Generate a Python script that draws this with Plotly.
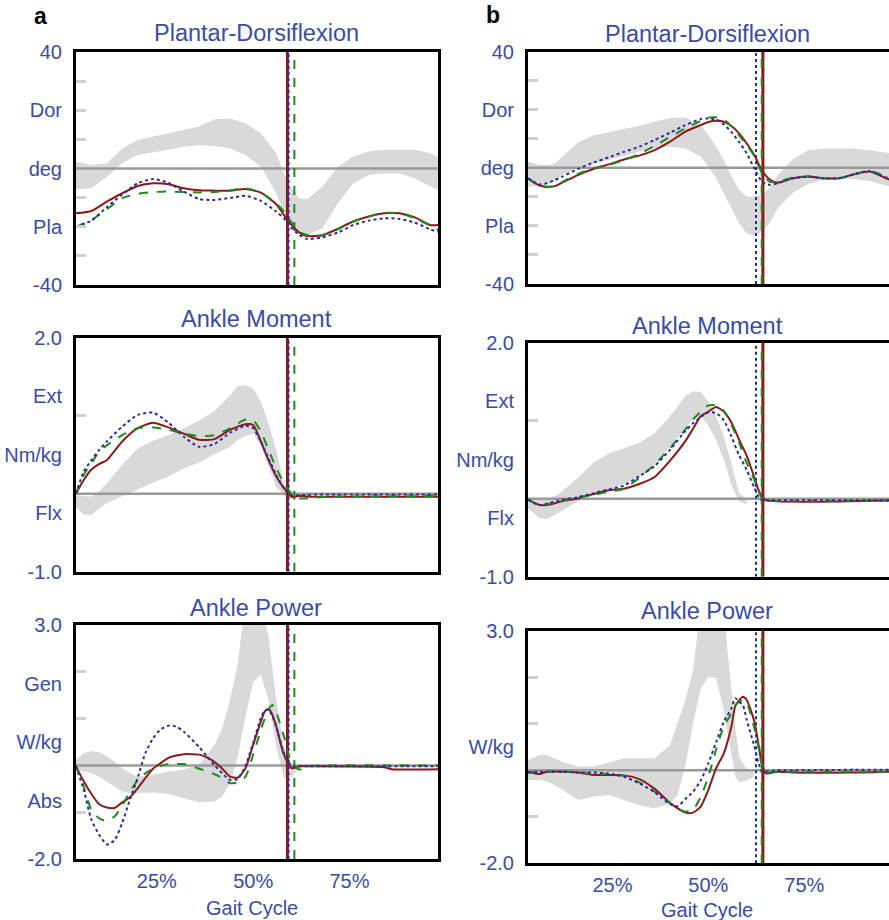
import plotly.graph_objects as go

# ---------------- data ----------------
# Panel a, Plantar-Dorsiflexion (deg)
a1_x = [4, 8, 12, 16, 20, 24, 28, 32, 36, 40, 44, 48, 52, 56, 58, 60, 62, 64, 68, 72, 76, 80, 84, 88, 92, 96, 98]
a1_red = [-15.4, -14.6, -11.4, -8.5, -6.0, -5.1, -5.4, -6.8, -7.5, -7.6, -7.6, -7.0, -8.3, -12.3, -16.0, -19.4, -22.0, -23.2, -22.9, -20.7, -18.2, -16.5, -15.4, -15.4, -16.8, -19.4, -19.4]
a1_green = [-20.0, -17.7, -14.0, -10.2, -8.7, -8.1, -7.9, -8.1, -8.2, -8.1, -7.5, -6.8, -8.3, -12.0, -14.8, -18.6, -21.7, -22.8, -22.9, -20.9, -18.2, -16.5, -15.2, -15.4, -17.1, -19.7, -21.1]
a1_blue = [-20.0, -17.9, -13.3, -8.9, -5.1, -3.6, -4.9, -7.9, -10.5, -10.8, -10.1, -9.4, -11.1, -14.8, -17.1, -20.5, -22.8, -24.2, -23.6, -22.0, -19.4, -17.9, -17.1, -17.3, -18.6, -20.9, -21.7]
a1_band_hi = [2.3, 1.2, 1.8, 6.9, 9.8, 11.0, 12.1, 13.2, 14.4, 16.9, 17.2, 15.5, 12.1, 5.2, -1.7, -6.8, -10.2, -10.6, -6.2, 0.6, 4.1, 5.8, 6.4, 6.4, 6.4, 5.2, 4.1]
a1_band_lo = [-7.1, -6.8, -2.8, 1.8, 4.6, 5.4, 6.4, 7.5, 8.0, 7.7, 6.9, 4.6, 0.6, -8.5, -15.4, -20.0, -22.3, -22.8, -20.5, -11.9, -5.1, -2.2, -1.6, -1.6, -3.4, -6.2, -7.4]

# Panel a, Ankle Moment (Nm/kg)
a2_x = [4, 6, 8, 10, 12, 16, 20, 24, 28, 32, 36, 40, 44, 48, 50, 52, 54, 56, 58, 60, 62, 66, 70, 98]
a2_red = [0.0, 0.175, 0.31, 0.38, 0.43, 0.67, 0.84, 0.91, 0.85, 0.77, 0.69, 0.70, 0.82, 0.89, 0.88, 0.67, 0.43, 0.22, 0.07, -0.04, -0.03, -0.04, -0.04, -0.04]
a2_green = [0.0, 0.24, 0.39, 0.54, 0.62, 0.75, 0.84, 0.85, 0.82, 0.77, 0.74, 0.75, 0.84, 0.95, 0.94, 0.80, 0.56, 0.33, 0.13, 0.0, -0.06, -0.05, -0.04, -0.03]
a2_blue = [0.0, 0.28, 0.43, 0.56, 0.67, 0.86, 1.01, 1.04, 0.91, 0.73, 0.60, 0.64, 0.78, 0.87, 0.84, 0.67, 0.45, 0.24, 0.07, -0.02, -0.02, -0.01, -0.01, -0.01]
a2_band_x = [4, 6, 8, 10, 12, 16, 20, 24, 28, 32, 36, 40, 44, 46, 48, 50, 52, 54, 56, 58, 60]
a2_band_hi = [-0.02, -0.03, -0.04, 0.03, 0.13, 0.37, 0.58, 0.68, 0.75, 0.84, 0.94, 1.06, 1.26, 1.38, 1.39, 1.35, 1.18, 0.90, 0.56, 0.13, -0.04]
a2_band_lo = [-0.17, -0.27, -0.27, -0.19, -0.12, -0.04, 0.05, 0.14, 0.22, 0.325, 0.40, 0.51, 0.60, 0.69, 0.74, 0.77, 0.62, 0.35, 0.09, -0.02, -0.05]

# Panel a, Ankle Power (W/kg)
a3_x = [4, 6, 8, 10, 12, 14, 16, 18, 20, 22, 24, 26, 28, 30, 32, 36, 38, 40, 42, 44, 46, 48, 50, 52, 53, 54, 55, 56, 58, 60, 62, 64, 84, 86, 98]
a3_red = [-0.02, -0.34, -0.61, -0.83, -0.90, -0.91, -0.79, -0.68, -0.49, -0.27, -0.07, 0.05, 0.16, 0.21, 0.24, 0.23, 0.17, 0.07, -0.07, -0.24, -0.26, -0.06, 0.44, 0.94, 1.15, 1.21, 1.08, 0.83, 0.23, -0.06, -0.02, -0.02, -0.04, -0.08, -0.08]
a3_green = [-0.02, -0.45, -0.95, -1.13, -1.18, -1.09, -0.86, -0.56, -0.32, -0.17, -0.07, -0.01, 0.03, 0.03, 0.03, -0.07, -0.13, -0.19, -0.27, -0.38, -0.36, -0.24, 0.23, 0.76, 1.00, 1.20, 1.29, 1.14, 0.62, 0.05, -0.09, -0.02, 0.0, 0.0, 0.0]
a3_blue = [-0.02, -0.52, -1.16, -1.48, -1.69, -1.60, -1.23, -0.73, -0.27, 0.26, 0.58, 0.77, 0.85, 0.83, 0.72, 0.39, 0.19, 0.0, -0.17, -0.31, -0.29, -0.01, 0.48, 1.01, 1.17, 1.19, 1.05, 0.83, 0.26, -0.02, -0.02, -0.02, -0.02, -0.02, -0.02]
a3_band_x = [4, 6, 8, 10, 12, 14, 16, 18, 20, 24, 28, 32, 36, 40, 42, 44, 46, 48, 50, 52, 54, 56, 58, 60, 62]
a3_band_hi = [0.12, 0.26, 0.30, 0.28, 0.19, 0.08, -0.06, -0.16, -0.24, -0.20, -0.13, -0.09, 0.01, 0.44, 0.80, 1.40, 2.18, 3.5, 3.5, 3.5, 2.75, 1.40, 0.40, 0.05, 0.0]
a3_band_lo = [-0.13, -0.13, -0.17, -0.24, -0.34, -0.45, -0.56, -0.59, -0.59, -0.58, -0.61, -0.70, -0.79, -0.77, -0.66, -0.38, 0.19, 1.04, 1.79, 1.93, 1.40, 0.40, -0.27, -0.24, -0.05]

# Panel b, Plantar-Dorsiflexion (deg)
b1_x = [3, 6, 8, 10, 12, 16, 20, 24, 28, 32, 36, 40, 44, 48, 50, 52, 54, 56, 58, 60, 62, 64, 66, 68, 72, 76, 80, 84, 88, 92, 96, 97.5]
b1_red = [-3.6, -6.1, -6.5, -6.3, -5.0, -2.5, -0.4, 1.2, 2.9, 4.2, 6.1, 9.0, 12.5, 14.7, 15.8, 16.2, 15.9, 14.4, 11.9, 8.4, 4.3, -1.0, -4.0, -5.1, -3.6, -3.0, -3.6, -3.6, -2.2, -1.3, -3.4, -4.2]
b1_green = [-3.6, -6.3, -6.7, -6.1, -4.8, -2.1, -0.2, 1.0, 2.7, 4.8, 7.6, 10.7, 13.6, 16.2, 17.3, 17.4, 16.7, 14.3, 11.2, 7.8, 4.0, -1.9, -4.8, -4.8, -3.4, -3.0, -3.6, -3.6, -2.2, -1.1, -2.6, -3.0]
b1_blue = [-3.6, -5.7, -5.2, -4.2, -3.0, -0.4, 1.8, 3.6, 5.5, 7.3, 9.6, 12.1, 14.7, 16.8, 17.0, 16.7, 15.0, 12.3, 8.9, 5.0, -0.3, -4.8, -5.9, -5.3, -3.6, -3.0, -3.6, -3.6, -2.2, -1.1, -3.2, -3.6]
b1_band_hi = [2.1, 1.0, 1.0, 1.5, 3.9, 8.7, 11.1, 12.2, 13.3, 14.5, 15.9, 17.2, 17.3, 14.7, 11.3, 7.3, 2.7, -2.8, -7.6, -9.9, -9.9, -9.0, -7.1, -2.6, 3.0, 6.1, 6.7, 6.7, 6.7, 6.1, 5.2, 5.0]
b1_band_lo = [-6.5, -6.0, -5.7, -4.4, -2.5, -0.2, 1.2, 2.7, 4.2, 5.6, 6.7, 7.3, 6.7, 3.9, 0.4, -3.6, -8.8, -14.0, -19.1, -22.6, -23.5, -22.0, -19.1, -14.0, -8.6, -5.6, -4.2, -3.8, -3.8, -4.5, -5.9, -6.5]

# Panel b, Ankle Moment (Nm/kg)
b2_x = [3, 6, 8, 12, 16, 20, 24, 28, 32, 36, 40, 44, 46, 48, 50, 52, 54, 56, 58, 60, 62, 63, 64, 65, 97.5]
b2_red = [-0.01, -0.08, -0.08, -0.03, 0.005, 0.06, 0.11, 0.13, 0.19, 0.28, 0.49, 0.74, 0.90, 1.06, 1.12, 1.18, 1.12, 0.98, 0.76, 0.55, 0.27, 0.12, 0.02, -0.02, -0.02]
b2_green = [-0.01, -0.09, -0.07, -0.02, 0.02, 0.05, 0.09, 0.13, 0.27, 0.44, 0.65, 0.89, 1.02, 1.12, 1.20, 1.20, 1.13, 0.95, 0.72, 0.46, 0.24, 0.11, 0.0, -0.02, -0.02]
b2_blue = [-0.01, -0.08, -0.06, -0.01, 0.02, 0.07, 0.12, 0.17, 0.29, 0.42, 0.63, 0.87, 0.97, 1.05, 1.11, 1.10, 1.01, 0.80, 0.56, 0.37, 0.14, 0.03, -0.02, -0.02, -0.02]
b2_band_x = [3, 6, 8, 10, 12, 16, 20, 24, 28, 32, 36, 40, 44, 46, 48, 50, 52, 54, 56, 58, 60]
b2_band_hi = [-0.01, -0.02, -0.01, 0.03, 0.10, 0.27, 0.46, 0.58, 0.65, 0.72, 0.84, 1.06, 1.32, 1.38, 1.37, 1.25, 1.06, 0.80, 0.46, 0.07, -0.01]
b2_band_lo = [-0.12, -0.25, -0.26, -0.20, -0.15, -0.03, 0.04, 0.12, 0.19, 0.29, 0.44, 0.67, 0.91, 1.02, 1.06, 0.94, 0.76, 0.50, 0.18, -0.03, -0.07]

# Panel b, Ankle Power (W/kg)
b3_x = [3, 6, 8, 12, 16, 20, 24, 28, 32, 36, 40, 42, 44, 46, 48, 50, 52, 54, 56, 57, 58, 59, 60, 62, 63, 64, 65, 68, 72, 88, 97.5]
b3_red = [-0.03, -0.08, -0.03, -0.03, -0.05, -0.10, -0.10, -0.11, -0.19, -0.40, -0.70, -0.82, -0.91, -0.91, -0.78, -0.42, 0.04, 0.36, 0.94, 1.38, 1.50, 1.58, 1.51, 1.04, 0.58, 0.11, -0.07, -0.03, -0.05, -0.05, -0.03]
b3_green = [-0.05, -0.03, -0.03, -0.02, -0.05, -0.07, -0.08, -0.12, -0.26, -0.46, -0.71, -0.82, -0.89, -0.85, -0.57, -0.14, 0.44, 0.94, 1.22, 1.40, 1.47, 1.50, 1.45, 0.90, 0.51, 0.11, -0.03, -0.03, -0.03, -0.03, -0.03]
b3_blue = [-0.05, -0.03, -0.03, -0.03, -0.05, -0.05, -0.07, -0.14, -0.28, -0.47, -0.73, -0.77, -0.62, -0.46, -0.22, 0.15, 0.60, 1.04, 1.33, 1.55, 1.47, 1.40, 1.08, 0.51, 0.18, -0.03, -0.03, 0.0, 0.0, 0.01, 0.01]
b3_band_x = [3, 6, 8, 10, 12, 16, 20, 24, 28, 32, 36, 40, 42, 44, 46, 48, 50, 52, 54, 55, 56, 57, 58, 60, 62]
b3_band_hi = [0.22, 0.33, 0.33, 0.26, 0.18, 0.08, 0.08, 0.16, 0.26, 0.26, 0.26, 0.54, 1.01, 1.51, 2.15, 3.5, 3.5, 3.5, 3.5, 2.55, 1.72, 0.94, 0.29, 0.01, -0.03]
b3_band_lo = [-0.21, -0.21, -0.24, -0.32, -0.42, -0.64, -0.57, -0.53, -0.64, -0.75, -0.82, -0.71, -0.53, 0.10, 1.00, 1.76, 2.01, 1.98, 1.30, 0.87, 0.36, -0.14, -0.25, -0.22, -0.14]

# toe-off markers (% gait cycle): red, green, blue
toe_off_a = {"red": 58.9, "green": 60.7, "blue": 59.2}
toe_off_b = {"red": 64.2, "green": 63.9, "blue": 62.4}

# axis labelling
x_ticks = [25, 50, 75]
x_ticktext = ["25%", "50%", "75%"]
y1_vals = [40, 20, 0, -20, -40]
y1_text = ["40", "Dor", "deg", "Pla", "-40"]
y2_vals = [2.0, 1.25, 0.5, -0.25, -1.0]
y2_text = ["2.0", "Ext", "Nm/kg", "Flx", "-1.0"]
y3a_vals = [3.0, 1.75, 0.5, -0.75, -2.0]
y3a_text = ["3.0", "Gen", "W/kg", "Abs", "-2.0"]
y3b_vals = [3.0, 0.5, -2.0]
y3b_text = ["3.0", "W/kg", "-2.0"]
y1_minor = [30, 20, 10, -10, -20, -30]
y2_minor = [1.0]
y3_minor = [2.0, 1.0, -1.0]
titles = ["Plantar-Dorsiflexion", "Ankle Moment", "Ankle Power"]

# ---------------- styling ----------------
W, H = 889, 920
FONT = "Liberation Sans, Arial, Helvetica, sans-serif"
BLUE_TXT = "#3b4ca6"
C_RED = "#8b1a1a"
C_GREEN = "#1f8a1f"
C_BLUE = "#2d2d9a"
C_BAND = "#d9d9d9"
C_ZERO = "#9a9a9a"

def px2fx(px):
    return px / W

def py2fy(py):
    return 1 - py / H

# plot-area pixel boxes: (left, right, top, bottom)
boxes = {
    1: (76, 438, 52, 285),
    2: (76, 438, 337.7, 571.7),
    3: (76, 438, 625, 859),
    4: (528, 889, 51.7, 284),
    5: (528, 889, 343, 576.7),
    6: (528, 889, 630.7, 863.3),
}
xr_a = [4.0, 98.0]
xr_b = [3.0, 97.06]
yranges = {1: [-40, 40], 2: [-1, 2], 3: [-2, 3], 4: [-40, 40], 5: [-1, 2], 6: [-2, 3]}

panels = [
    (1, a1_x, a1_red, a1_green, a1_blue, a1_x, a1_band_hi, a1_band_lo, toe_off_a),
    (2, a2_x, a2_red, a2_green, a2_blue, a2_band_x, a2_band_hi, a2_band_lo, toe_off_a),
    (3, a3_x, a3_red, a3_green, a3_blue, a3_band_x, a3_band_hi, a3_band_lo, toe_off_a),
    (4, b1_x, b1_red, b1_green, b1_blue, b1_x, b1_band_hi, b1_band_lo, toe_off_b),
    (5, b2_x, b2_red, b2_green, b2_blue, b2_band_x, b2_band_hi, b2_band_lo, toe_off_b),
    (6, b3_x, b3_red, b3_green, b3_blue, b3_band_x, b3_band_hi, b3_band_lo, toe_off_b),
]

fig = go.Figure()

for idx, x, red, green, blue, bx, hi, lo, toe in panels:
    xa = "x" if idx == 1 else f"x{idx}"
    ya = "y" if idx == 1 else f"y{idx}"
    xr = xr_a if idx <= 3 else xr_b
    yr = yranges[idx]
    fig.add_trace(go.Scatter(x=list(bx) + list(bx)[::-1], y=list(hi) + list(lo)[::-1],
                             fill="toself", fillcolor=C_BAND, line=dict(width=0),
                             mode="lines", hoverinfo="skip", showlegend=False, xaxis=xa, yaxis=ya))
    fig.add_trace(go.Scatter(x=xr, y=[0, 0], mode="lines", line=dict(color=C_ZERO, width=2.5),
                             hoverinfo="skip", showlegend=False, xaxis=xa, yaxis=ya))
    fig.add_trace(go.Scatter(x=[toe["red"]] * 2, y=yr, mode="lines",
                             line=dict(color=C_RED, width=3), showlegend=False, xaxis=xa, yaxis=ya))
    fig.add_trace(go.Scatter(x=[toe["blue"]] * 2, y=yr, mode="lines",
                             line=dict(color=C_BLUE, width=2, dash="dot"), showlegend=False, xaxis=xa, yaxis=ya))
    fig.add_trace(go.Scatter(x=[toe["green"]] * 2, y=yr, mode="lines",
                             line=dict(color=C_GREEN, width=2, dash="dash"), showlegend=False, xaxis=xa, yaxis=ya))
    fig.add_trace(go.Scatter(x=x, y=red, mode="lines", line=dict(color=C_RED, width=2, shape="spline", smoothing=0.6),
                             showlegend=False, xaxis=xa, yaxis=ya))
    fig.add_trace(go.Scatter(x=x, y=green, mode="lines", line=dict(color=C_GREEN, width=2, dash="dash", shape="spline", smoothing=0.6),
                             showlegend=False, xaxis=xa, yaxis=ya))
    fig.add_trace(go.Scatter(x=x, y=blue, mode="lines", line=dict(color=C_BLUE, width=2, dash="dot", shape="spline", smoothing=0.6),
                             showlegend=False, xaxis=xa, yaxis=ya))

    L, R, T, B = boxes[idx]
    is_b = idx > 3
    bottom_row = idx in (3, 6)
    xkey = "xaxis" if idx == 1 else f"xaxis{idx}"
    ykey = "yaxis" if idx == 1 else f"yaxis{idx}"
    row = (idx - 1) % 3
    if row == 0:
        yv, yt, ym = y1_vals, y1_text, y1_minor
    elif row == 1:
        yv, yt, ym = y2_vals, y2_text, y2_minor
    else:
        yv, yt, ym = (y3b_vals, y3b_text, y3_minor) if is_b else (y3a_vals, y3a_text, y3_minor)

    fig.layout[xkey] = dict(
        domain=[px2fx(L), min(1.0, px2fx(R))], range=xr, anchor=ya, automargin=False,
        showline=True, linecolor="black", linewidth=3, mirror=True,
        showgrid=False, zeroline=False, ticks="",
        tickmode="array", tickvals=x_ticks, ticktext=x_ticktext,
        showticklabels=bottom_row, ticklabelstandoff=2,
        tickfont=dict(family=FONT, size=20, color=BLUE_TXT),
    )
    fig.layout[ykey] = dict(
        domain=[py2fy(B), py2fy(T)], range=yr, anchor=xa, automargin=False,
        showline=True, linecolor="black", linewidth=3, mirror=(not is_b),
        showgrid=False, zeroline=False, ticks="",
        tickmode="array", tickvals=yv, ticktext=yt, ticklabelstandoff=7,
        tickfont=dict(family=FONT, size=20, color=BLUE_TXT),
        minor=dict(tickmode="array", tickvals=ym, ticks="inside", ticklen=10, tickwidth=3,
                   tickcolor="#cfcfcf", showgrid=False),
    )

annotations = []
title_y = {1: 33, 2: 319, 3: 608, 4: 34, 5: 326, 6: 611}
for idx in range(1, 7):
    cx = 256 if idx <= 3 else 707
    annotations.append(dict(text=titles[(idx - 1) % 3], x=px2fx(cx), y=py2fy(title_y[idx]),
                            xref="paper", yref="paper", showarrow=False, xanchor="center", yanchor="middle",
                            font=dict(family=FONT, size=23.5, color=BLUE_TXT)))
annotations.append(dict(text="Gait Cycle", x=px2fx(252), y=py2fy(908), xref="paper", yref="paper",
                        showarrow=False, xanchor="center", yanchor="middle",
                        font=dict(family=FONT, size=20, color=BLUE_TXT)))
annotations.append(dict(text="Gait Cycle", x=px2fx(707), y=py2fy(910), xref="paper", yref="paper",
                        showarrow=False, xanchor="center", yanchor="middle",
                        font=dict(family=FONT, size=20, color=BLUE_TXT)))
annotations.append(dict(text="<b>a</b>", x=px2fx(40), y=py2fy(16), xref="paper", yref="paper",
                        showarrow=False, xanchor="center", yanchor="middle",
                        font=dict(family=FONT, size=23, color="black")))
annotations.append(dict(text="<b>b</b>", x=px2fx(493), y=py2fy(15), xref="paper", yref="paper",
                        showarrow=False, xanchor="center", yanchor="middle",
                        font=dict(family=FONT, size=23, color="black")))

fig.update_layout(width=W, height=H, margin=dict(l=0, r=0, t=0, b=0, autoexpand=False),
                  paper_bgcolor="white", plot_bgcolor="white",
                  showlegend=False, annotations=annotations)

fig.write_html("out.html")
